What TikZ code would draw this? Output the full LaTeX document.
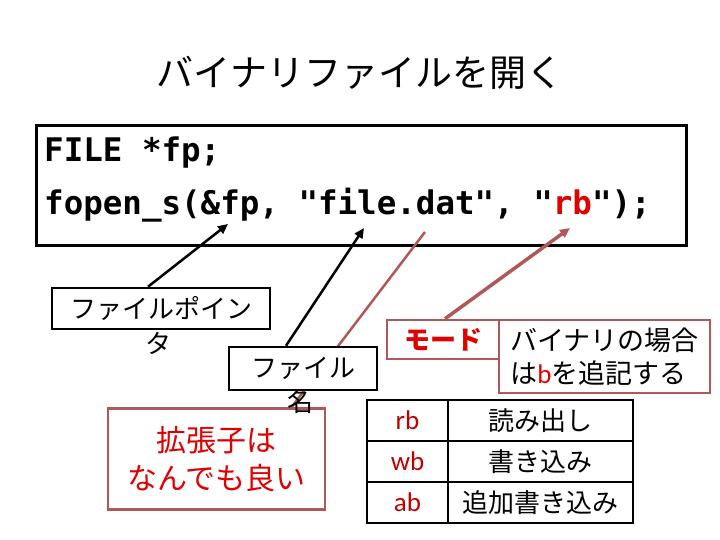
\documentclass[tikz,border=0pt]{standalone}
\usepackage{fontspec}
\setmainfont{Liberation Sans}
\newfontfamily\jpfont{Noto Sans CJK JP}
\newfontfamily\codefont{DejaVu Sans Mono}
\newfontfamily\latinfont{Carlito}
\usetikzlibrary{positioning, arrows.meta}
\definecolor{boxbrown}{RGB}{176,88,88}
\definecolor{modered}{RGB}{225,0,0}
\definecolor{celred}{RGB}{192,0,0}

\begin{document}
\begin{tikzpicture}[x=1pt, y=-1pt,
    title/.style={font=\jpfont\fontsize{37}{44}\selectfont, inner sep=0pt},
    code/.style={font=\codefont\bfseries\fontsize{32.5}{40}\selectfont, anchor=west, inner sep=0pt},
    codebox/.style={draw, line width=3pt, minimum width=650pt, minimum height=119pt},
    notebox/.style={draw, fill=white, line width=2.5pt, inner sep=0pt, font=\jpfont\fontsize{26}{33}\selectfont},
    redbox/.style={draw=boxbrown, fill=white, line width=2.5pt, inner sep=0pt, align=center},
    overflow/.style={font=\jpfont\fontsize{26}{33}\selectfont, inner sep=0pt},
    modecell/.style={draw, line width=1.5pt, minimum width=81pt, minimum height=41pt, inner sep=0pt, text=celred, font=\latinfont\fontsize{27}{30}\selectfont},
    usecell/.style={draw, line width=1.5pt, minimum width=185pt, minimum height=41pt, inner sep=0pt, font=\jpfont\fontsize{26}{33}\selectfont},
    pointer/.style={draw, line width=2.5pt, -{Triangle[length=10pt,width=9pt]}},
    plainline/.style={draw=boxbrown, line width=2.5pt}
]
\useasboundingbox (0,0) rectangle (720,540);

    % Title
    \node[title] (head) at (360,73) {バイナリファイルを開く};

    % Code
    \node[codebox] (src) at (361,185.5) {};
    \node[code] (line1) at (44,153) {FILE *fp;};
    \node[code] (line2) at (44,205) {fopen\_s(\&fp, "file.dat", "\textcolor{modered}{rb}");};

    % Targets in the code
    \coordinate (fptip) at (228,224);
    \coordinate (nametip) at (364,228);
    \coordinate (exttip) at (425,232);
    \coordinate (rbtip) at (570,228);

    % Extension note
    \node[redbox, minimum width=217pt, minimum height=101pt, text=modered,
          font=\jpfont\fontsize{30}{38}\selectfont] (ext) at (216.5,459) {拡張子は\\なんでも良い};
    \draw[plainline] ([xshift=75pt]ext.north) -- (exttip);

    % Labels
    \node[notebox, minimum width=218pt, minimum height=41pt] (ptr) at (161,308.5) {ファイルポイン};
    \node[overflow] (ptrend) at (158,343) {タ};
    \node[notebox, minimum width=148pt, minimum height=43pt] (fname) at (303,368.5) {ファイル};
    \node[overflow] (fnameend) at (300,402) {名};

    % Mode
    \node[redbox, minimum width=112pt, minimum height=39pt, text=modered,
          font=\jpfont\bfseries\fontsize{26}{33}\selectfont] (mode) at (443,339.5) {モード};
    \node[redbox, minimum width=211pt, minimum height=73pt, align=left,
          font=\jpfont\fontsize{27}{33}\selectfont] (binary) at (604.5,356.5)
          {バイナリの場合\\は{\latinfont\color{modered}b}を追記する};

    % Table
    \node[modecell] (rb) at (407.5,420.5) {rb};
    \node[modecell] (wb) at (407.5,461.5) {wb};
    \node[modecell] (ab) at (407.5,502.5) {ab};
    \node[usecell] (read) at (540.5,420.5) {読み出し};
    \node[usecell] (write) at (540.5,461.5) {書き込み};
    \node[usecell] (append) at (540.5,502.5) {追加書き込み};

    % Arrows
    \draw[pointer] ([xshift=-13pt]ptr.north) -- (fptip);
    \draw[pointer] ([xshift=-17pt]fname.north) -- (nametip);
    \draw[pointer, draw=boxbrown, fill=boxbrown, line width=3.5pt] ([xshift=2pt]mode.north) -- (rbtip);

\end{tikzpicture}
\end{document}
